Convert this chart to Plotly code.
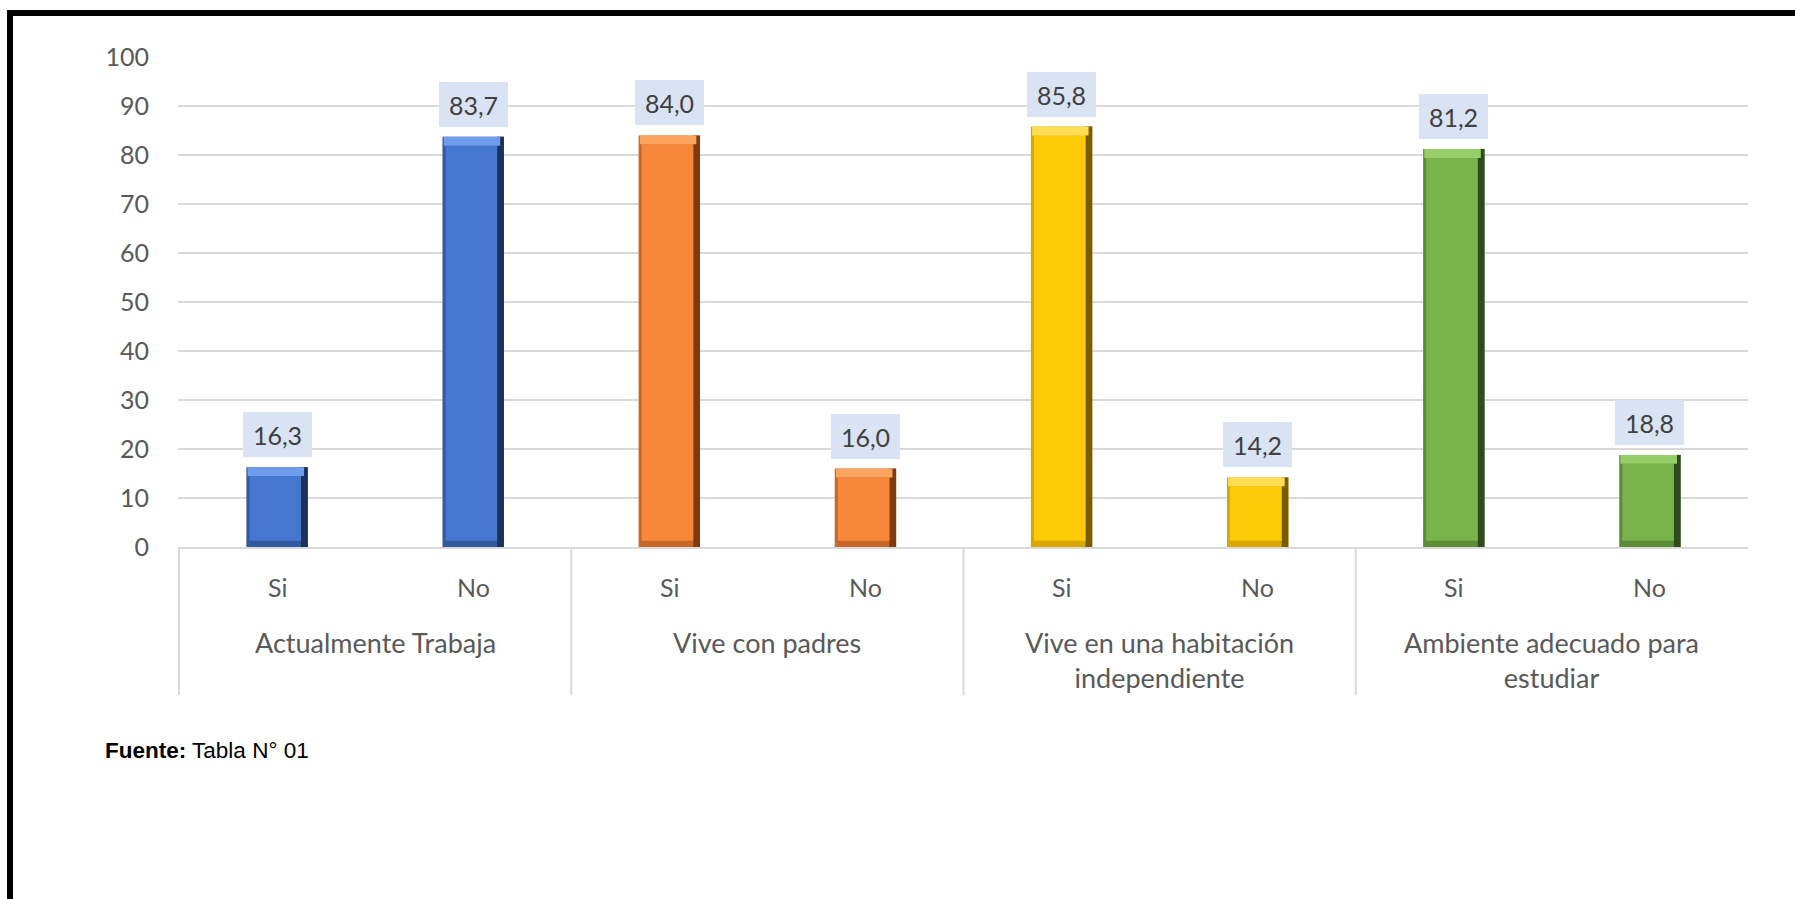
import plotly.graph_objects as go

# ---------------- data ----------------
groups = ["Actualmente Trabaja", "Vive con padres",
          "Vive en una habitación<br>independiente",
          "Ambiente adecuado para<br>estudiar"]
answers = ["Si", "No"]
values_trabaja = [16.3, 83.7]
values_padres = [84.0, 16.0]
values_habitacion = [85.8, 14.2]
values_ambiente = [81.2, 18.8]
y_ticks = [0, 10, 20, 30, 40, 50, 60, 70, 80, 90, 100]
source_bold = "Fuente:"
source_text = "Tabla N° 01"

all_values = [values_trabaja, values_padres, values_habitacion, values_ambiente]

# ---------------- styles ----------------
main_colors = ["#4677CF", "#F7883A", "#FFCA08", "#78B44A"]
light_colors = ["#6F9DEB", "#FBA460", "#FFDE55", "#96CF68"]
shade_colors = ["#33599E", "#C8662A", "#D9A800", "#5C8C38"]
edge_colors = ["#1C3058", "#7F3A10", "#7A5C00", "#2F4A1E"]

W, H = 1795, 899
PL, PR, PT, PB = 178, 1748, 57, 547  # plot area edges in pixels
FONT = "Lato"
AX_COLOR = "#595959"
BAR_W = 0.313
BOTTOM_BAND = 1.3   # in axis units
TOP_BAND = 1.8

gx, sx, vals, labels = [], [], [], []
cm, cl, cs, ce = [], [], [], []
for gi, (g, vs) in enumerate(zip(groups, all_values)):
    for a, v in zip(answers, vs):
        gx.append(g)
        sx.append(a)
        vals.append(v)
        labels.append(f"{v:.1f}".replace(".", ","))
        cm.append(main_colors[gi])
        cl.append(light_colors[gi])
        cs.append(shade_colors[gi])
        ce.append(edge_colors[gi])

X = [gx, sx]
fig = go.Figure()
common = dict(x=X, hoverinfo="skip", showlegend=False)
# base (bottom shade)
fig.add_trace(go.Bar(y=vals, width=BAR_W, offset=-BAR_W / 2,
                     marker=dict(color=cs, line=dict(width=0)), **common))
# right dark edge
fig.add_trace(go.Bar(y=vals, width=BAR_W * 0.11, offset=BAR_W / 2 - BAR_W * 0.11,
                     marker=dict(color=ce, line=dict(width=0)), **common))
# body
fig.add_trace(go.Bar(y=[v - BOTTOM_BAND - TOP_BAND for v in vals],
                     base=[BOTTOM_BAND] * len(vals),
                     width=BAR_W * 0.84, offset=-BAR_W / 2 + BAR_W * 0.05,
                     marker=dict(color=cm, line=dict(width=0)), **common))
# top highlight
fig.add_trace(go.Bar(y=[TOP_BAND] * len(vals),
                     base=[v - TOP_BAND for v in vals],
                     width=BAR_W * 0.92, offset=-BAR_W / 2 + BAR_W * 0.02,
                     marker=dict(color=cl, line=dict(width=0)), **common))


def px_x(p):
    return (p - PL) / (PR - PL)


def px_y(p):
    return (PB - p) / (PB - PT)


annotations = []
# data labels
for i, (v, t) in enumerate(zip(vals, labels)):
    annotations.append(dict(
        x=i, y=v, xref="x", yref="y", text=t, showarrow=False,
        yanchor="bottom", xanchor="center", yshift=10,
        width=69, height=45, borderpad=0, borderwidth=0,
        bgcolor="#DAE3F3",
        font=dict(family=FONT, size=25, color="#404040"),
    ))
# category labels (two levels)
for i, a in enumerate(sx):
    annotations.append(dict(
        x=i, y=px_y(587), xref="x", yref="paper", text=a, showarrow=False,
        xanchor="center", yanchor="middle",
        font=dict(family=FONT, size=25, color=AX_COLOR),
    ))
for gi, g in enumerate(groups):
    annotations.append(dict(
        x=2 * gi + 0.5, y=px_y(624), xref="x", yref="paper", text=g,
        showarrow=False, xanchor="center", yanchor="top", align="center",
        font=dict(family=FONT, size=27, color=AX_COLOR),
    ))
# source note
annotations.append(dict(
    x=px_x(103), y=px_y(750), xref="paper", yref="paper",
    xanchor="left", yanchor="middle", showarrow=False,
    text=f"<b>{source_bold}</b> {source_text}",
    font=dict(family="Liberation Sans, Arial", size=22.5, color="#000000"),
))

shapes = []
# category dividers
for k in range(0, len(gx), 2):
    shapes.append(dict(type="line", xref="x", yref="paper",
                       x0=k - 0.5, x1=k - 0.5, y0=0, y1=px_y(695),
                       line=dict(color="#D9D9D9", width=2)))
# black frame (top and left)
shapes.append(dict(type="line", xref="paper", yref="paper",
                   x0=px_x(7), x1=px_x(W + 5), y0=px_y(13), y1=px_y(13),
                   line=dict(color="#000000", width=6)))
shapes.append(dict(type="line", xref="paper", yref="paper",
                   x0=px_x(10), x1=px_x(10), y0=px_y(10), y1=px_y(H + 5),
                   line=dict(color="#000000", width=6)))

fig.update_layout(
    width=W, height=H,
    margin=dict(l=PL, r=W - PR, t=PT, b=H - PB, pad=0),
    paper_bgcolor="white", plot_bgcolor="white",
    barmode="overlay",
    annotations=annotations, shapes=shapes,
    font=dict(family=FONT, color=AX_COLOR),
)
fig.update_yaxes(
    range=[0, 100], tickvals=y_ticks, showgrid=True,
    gridcolor="#D9D9D9", gridwidth=2, zeroline=False, showline=False,
    ticks="", tickfont=dict(family=FONT, size=25, color=AX_COLOR),
    ticklabelstandoff=28, fixedrange=True,
)
fig.update_xaxes(
    type="multicategory", showdividers=False, showgrid=False,
    showticklabels=False,
    showline=True, linecolor="#D9D9D9", linewidth=2, ticks="",
    fixedrange=True,
)

fig.write_html("out.html")
